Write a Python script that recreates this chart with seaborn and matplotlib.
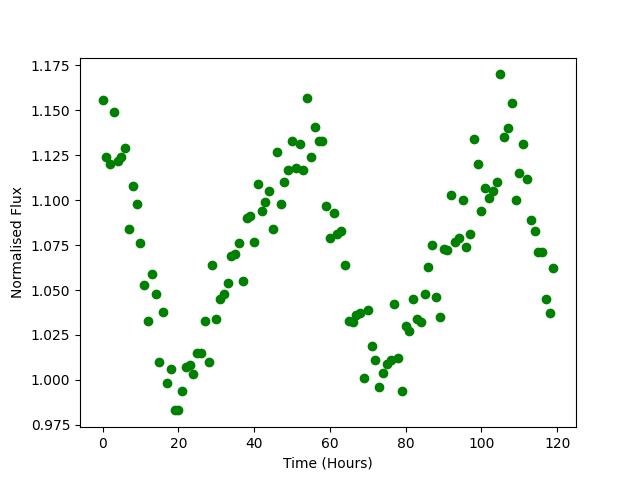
import numpy as np
import pandas as pd
import matplotlib
matplotlib.use("Agg")
import matplotlib.pyplot as plt
import seaborn as sns

# hourly samples
hours = list(range(120))
flux = [
    1.156, 1.124, 1.120, 1.149, 1.122, 1.124, 1.129, 1.084, 1.108, 1.098,
    1.076, 1.053, 1.033, 1.059, 1.048, 1.010, 1.038, 0.998, 1.006, 0.983,
    0.983, 0.994, 1.007, 1.008, 1.003, 1.015, 1.015, 1.033, 1.010, 1.064,
    1.034, 1.045, 1.048, 1.054, 1.069, 1.070, 1.076, 1.055, 1.090, 1.091,
    1.077, 1.109, 1.094, 1.099, 1.105, 1.084, 1.127, 1.098, 1.110, 1.117,
    1.133, 1.118, 1.131, 1.117, 1.157, 1.124, 1.141, 1.133, 1.133, 1.097,
    1.079, 1.093, 1.081, 1.083, 1.064, 1.033, 1.032, 1.036, 1.037, 1.001,
    1.039, 1.019, 1.011, 0.996, 1.004, 1.009, 1.011, 1.042, 1.012, 0.994,
    1.030, 1.027, 1.045, 1.034, 1.032, 1.048, 1.063, 1.075, 1.046, 1.035,
    1.073, 1.072, 1.103, 1.077, 1.079, 1.100, 1.074, 1.081, 1.134, 1.120,
    1.094, 1.107, 1.101, 1.105, 1.110, 1.170, 1.135, 1.140, 1.154, 1.100,
    1.115, 1.131, 1.112, 1.089, 1.083, 1.071, 1.071, 1.045, 1.037, 1.062,
]

df = pd.DataFrame({"hours": hours, "flux": flux})

fig, ax = plt.subplots(figsize=(6.4, 4.8), dpi=100)
sns.scatterplot(data=df, x="hours", y="flux", color="green", s=36,
                linewidth=1, edgecolor="green", ax=ax)
ax.set_xlabel("Time (Hours)")
ax.set_ylabel("Normalised Flux")
fig.savefig("out.png", dpi=100)
